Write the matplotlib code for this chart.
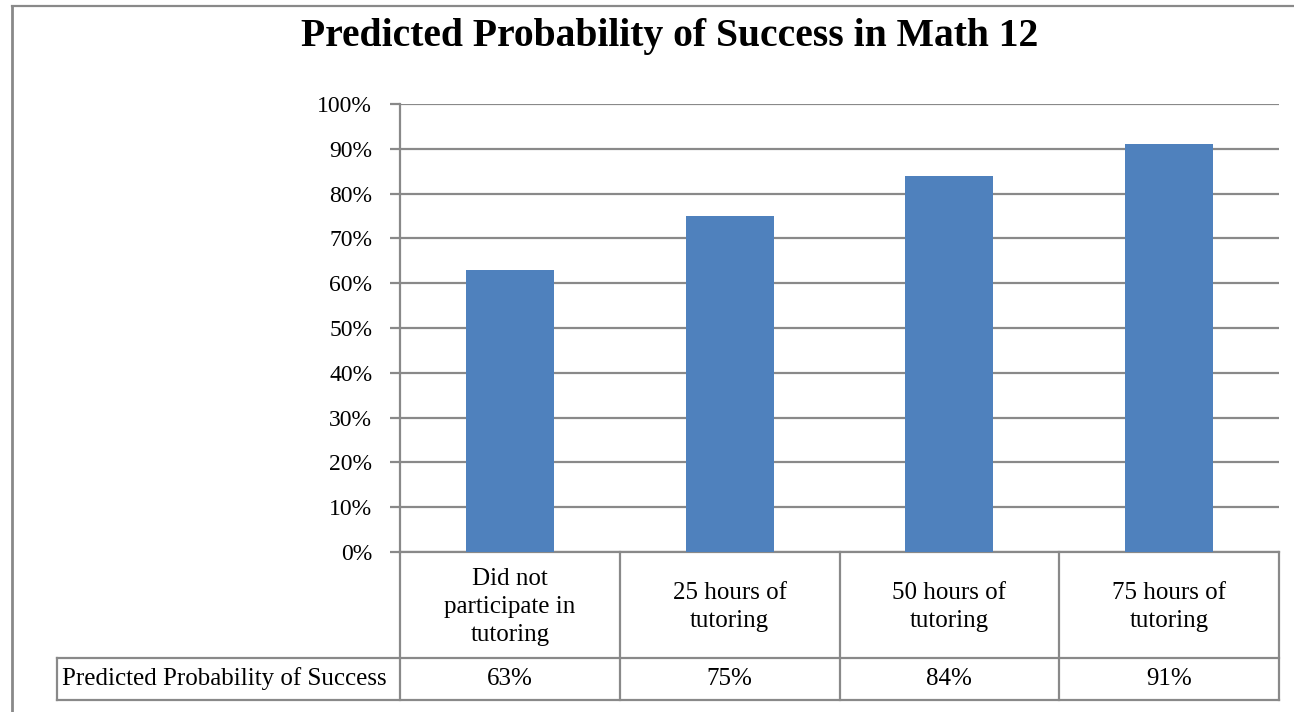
import matplotlib.pyplot as plt
from matplotlib.lines import Line2D
import matplotlib.transforms as mtransforms
import numpy as np

categories = ["Did not\nparticipate in\ntutoring", "25 hours of\ntutoring",
              "50 hours of\ntutoring", "75 hours of\ntutoring"]
values = [63, 75, 84, 91]
row_label = "Predicted Probability of Success"
title = "Predicted Probability of Success in Math 12"

barColor = "#4F81BD"
lineColor = "#898989"
W, H = 1294, 712

plt.rcParams['font.family'] = ['Liberation Serif', 'DejaVu Serif']

fig = plt.figure(figsize=(W / 100, H / 100), dpi=100)

# plot area in pixels
left, right, top, bottom = 400, 1279, 104, 552
ax = fig.add_axes([left / W, 1 - bottom / H, (right - left) / W, (bottom - top) / H])

x = np.arange(len(values))
ax.bar(x, values, width=0.4, color=barColor, zorder=3)
ax.set_xlim(-0.5, len(values) - 0.5)
ax.set_ylim(0, 100)
ax.set_yticks(np.arange(0, 101, 10))
ax.set_yticklabels([str(v) + "%" for v in range(0, 101, 10)], fontsize=17)
ax.yaxis.grid(True, color=lineColor, linewidth=1.6, zorder=0)
ax.tick_params(axis='y', length=7, width=1.6, color=lineColor, pad=13)
ax.set_xticks([])
for s in ['top', 'right', 'bottom']:
    ax.spines[s].set_visible(False)
ax.spines['left'].set_color(lineColor)
ax.spines['left'].set_linewidth(1.6)

# data table under the axis
axH = bottom - top
yRow1 = -(658 - bottom) / axH
yRow2 = -(700 - bottom) / axH
xLeftCol = (57 - left) / (right - left)

bt = mtransforms.blended_transform_factory(ax.transData, ax.transAxes)
tableLines = dict(color=lineColor, linewidth=1.6, clip_on=False)
for b in np.arange(len(values) + 1) - 0.5:
    ax.add_line(Line2D([b, b], [0, yRow2], transform=bt, **tableLines))
ax.add_line(Line2D([xLeftCol, 1], [yRow1, yRow1], transform=ax.transAxes, **tableLines))
ax.add_line(Line2D([xLeftCol, 1], [yRow2, yRow2], transform=ax.transAxes, **tableLines))
ax.add_line(Line2D([xLeftCol, xLeftCol], [yRow1, yRow2], transform=ax.transAxes, **tableLines))
ax.add_line(Line2D([0, 1], [0, 0], transform=ax.transAxes, **tableLines))

for i, (cat, v) in enumerate(zip(categories, values)):
    ax.text(i, yRow1 / 2 - 0.004, cat, transform=bt, ha='center', va='center',
            fontsize=18, linespacing=1.35)
    ax.text(i, (yRow1 + yRow2) / 2, str(v) + "%", transform=bt,
            ha='center', va='center', fontsize=18)
ax.text(xLeftCol + 0.006, (yRow1 + yRow2) / 2, row_label, transform=ax.transAxes,
        ha='left', va='center', fontsize=18)

# title and chart border
fig.text(670 / W, 1 - 46 / H, title, ha='center', va='baseline',
         fontsize=28.5, fontweight='bold')
fig.add_artist(Line2D([12 / W, 12 / W], [0, 1 - 6 / H], transform=fig.transFigure,
                      color=lineColor, linewidth=2))
fig.add_artist(Line2D([12 / W, 1], [1 - 6 / H, 1 - 6 / H], transform=fig.transFigure,
                      color=lineColor, linewidth=1.6))

plt.savefig("out.png", dpi=100)
plt.close()
